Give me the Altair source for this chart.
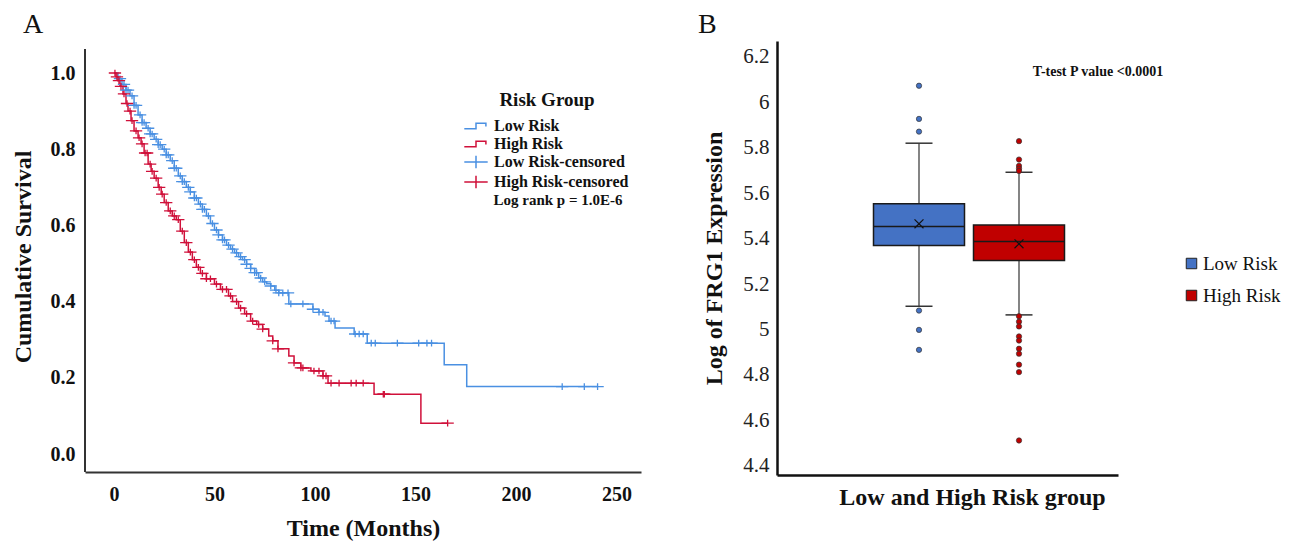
import altair as alt
import pandas as pd

FONT = "Liberation Serif"
BLUE = "#4A90E2"
RED = "#D0103A"

# ---------------- Panel A: Kaplan-Meier data ----------------
low_t = [0, 2, 4, 6, 8, 10, 12, 14, 16, 18, 20, 22, 24, 26, 28, 30, 32, 34, 36, 38, 40, 42, 44, 46, 48,
         50, 52, 54, 56, 58, 60, 62, 64, 66, 68, 70, 72, 74, 76, 78, 80, 82, 87, 99, 102, 105, 107, 110,
         119.5, 126, 164.3, 175.5, 240.6]
low_s = [1.0, 0.985, 0.97, 0.955, 0.94, 0.915, 0.89, 0.87, 0.855, 0.84, 0.826, 0.812, 0.80, 0.785, 0.77,
         0.75, 0.73, 0.715, 0.70, 0.688, 0.672, 0.656, 0.642, 0.625, 0.605, 0.588, 0.575, 0.562, 0.548,
         0.538, 0.528, 0.518, 0.51, 0.498, 0.487, 0.476, 0.462, 0.452, 0.447, 0.441, 0.43, 0.423, 0.394,
         0.380, 0.372, 0.362, 0.349, 0.331, 0.315, 0.291, 0.234, 0.177, 0.177]
high_t = [0, 1, 2, 3, 4.5, 6, 7, 8.5, 10, 12, 13.5, 15, 17, 18.5, 20, 22, 23.5, 25, 27, 29, 31, 33, 35,
          37, 39, 41, 43, 46, 50, 53, 57, 59, 62, 65, 68, 71, 74, 77, 79, 81.6, 87, 89.6, 93, 98, 104,
          106.5, 129.4, 152.7, 166]
high_s = [1.0, 0.99, 0.98, 0.965, 0.945, 0.92, 0.9, 0.875, 0.848, 0.83, 0.814, 0.79, 0.761, 0.742,
          0.724, 0.70, 0.682, 0.66, 0.638, 0.625, 0.615, 0.585, 0.555, 0.53, 0.51, 0.49, 0.474, 0.46,
          0.446, 0.432, 0.415, 0.40, 0.383, 0.368, 0.349, 0.34, 0.328, 0.31, 0.297, 0.276, 0.257, 0.239,
          0.226, 0.218, 0.205, 0.186, 0.157, 0.081, 0.081]
low_cens = [3, 5, 6, 7, 9, 10, 11, 13, 14, 15, 17, 18, 19, 21, 22, 23, 25, 26, 27, 29, 30, 31, 33, 34,
            35, 37, 38, 40, 41, 43, 44, 45, 47, 49, 51, 52, 54, 55, 57, 59, 61, 63, 65, 66, 68, 70, 71,
            73, 75, 78, 80.6, 82, 84, 86.6, 88, 94, 99, 102, 104, 108, 109.5, 120, 122, 124, 128, 130,
            141, 151.6, 155.7, 158, 223, 234, 240.6]
high_cens = [0.5, 1.5, 2.5, 3.5, 5, 6.5, 8, 9, 11, 12.5, 14, 15.5, 16.5, 18, 19, 21, 22.5, 24, 26, 28,
             30, 32, 34, 36, 38, 40, 42, 44, 46, 48, 51, 54, 56, 58, 61, 63, 66, 69, 72, 74, 79, 81.6,
             89.6, 93, 94, 99.5, 102, 104, 105.5, 108, 112, 118, 120.5, 124, 134, 134.5, 166]
km_series = ["Low Risk", "High Risk", "Low Risk-censored", "High Risk-censored"]
x_ticks_a = [0, 50, 100, 150, 200, 250]
y_ticks_a = [0.0, 0.2, 0.4, 0.6, 0.8, 1.0]

# ---------------- Panel B: box plot data ----------------
groups = ["Low Risk", "High Risk"]
q1 = [5.369, 5.303]
q3 = [5.553, 5.460]
median = [5.453, 5.387]
mean = [5.465, 5.377]
whisk_lo = [5.102, 5.064]
whisk_hi = [5.820, 5.692]
out_low = [6.073, 5.927, 5.871, 5.083, 4.998, 4.910]
out_high = [5.829, 5.748, 5.720, 5.708, 5.698, 5.058, 5.034, 5.013, 4.969, 4.951, 4.915, 4.893,
            4.845, 4.812, 4.511]
y_ticks_b = [4.4, 4.6, 4.8, 5.0, 5.2, 5.4, 5.6, 5.8, 6.0, 6.2]
box_colors = ["#4472C4", "#C00000"]


def surv_at(ts, ss, t):
    s = ss[0]
    for ti, si in zip(ts, ss):
        if ti <= t:
            s = si
        else:
            break
    return s


km_df = pd.DataFrame({
    "t": low_t + high_t,
    "s": low_s + high_s,
    "series": ["Low Risk"] * len(low_t) + ["High Risk"] * len(high_t),
})
cens_df = pd.DataFrame({
    "t": low_cens + high_cens,
    "s": [surv_at(low_t, low_s, t) for t in low_cens] + [surv_at(high_t, high_s, t) for t in high_cens],
    "series": ["Low Risk-censored"] * len(low_cens) + ["High Risk-censored"] * len(high_cens),
})
one_row = pd.DataFrame({"k": [0]})

STEP = "M-1.3,0.3H0V-0.3H1.1V0.05"
CROSS = "M-1.3,0H1.3M0,-0.7V0.7"
NO_VIEW = alt.ViewBackground(stroke="transparent", strokeWidth=0)

legend_a = alt.Legend(
    title="Risk Group", orient="none", legendX=381, legendY=50,
    titleFont=FONT, titleFontSize=19, titleFontWeight="bold", titleColor="#111",
    titleAnchor="middle", titlePadding=6,
    labelFont=FONT, labelFontSize=16, labelFontWeight="bold", labelColor="#111",
    symbolSize=324, symbolStrokeWidth=1.5, symbolFillColor="transparent",
    rowPadding=0, labelOffset=8, padding=0,
)
color_a = alt.Color("series:N", scale=alt.Scale(domain=km_series, range=[BLUE, RED, BLUE, RED]),
                    legend=legend_a)

xa = alt.X("t:Q", scale=alt.Scale(domain=[-14.4, 262.2], nice=False, zero=False),
           axis=alt.Axis(title="Time (Months)", values=x_ticks_a, format="d", ticks=False,
                         domainColor="#333", domainWidth=2, grid=False,
                         labelFont=FONT, labelFontSize=20, labelFontWeight="bold", labelColor="#111",
                         labelPadding=12, titleFont=FONT, titleFontSize=24, titleFontWeight="bold",
                         titleColor="#111", titlePadding=12))
ya = alt.Y("s:Q", scale=alt.Scale(domain=[-0.0472, 1.084], nice=False, zero=False),
           axis=alt.Axis(title="Cumulative Survival", values=y_ticks_a, format=".1f", ticks=False,
                         domain=False, grid=False,
                         labelFont=FONT, labelFontSize=20, labelFontWeight="bold", labelColor="#111",
                         labelPadding=10, titleFont=FONT, titleFontSize=24, titleFontWeight="bold",
                         titleColor="#111", titlePadding=15))

lines = alt.Chart(km_df).mark_line(interpolate="step-after", strokeWidth=1.5).encode(
    x=xa, y=ya, color=color_a)
cens = alt.Chart(cens_df).mark_point(filled=False, strokeWidth=1.3, size=90, opacity=1).encode(
    x="t:Q", y="s:Q", color=color_a,
    shape=alt.Shape("series:N", scale=alt.Scale(domain=km_series, range=[STEP, STEP, CROSS, CROSS]),
                    legend=legend_a))
yline = alt.Chart(one_row).mark_rule(color="#333", strokeWidth=2).encode(
    x=alt.value(0), y=alt.value(8), y2=alt.value(431))
logrank = alt.Chart(one_row).mark_text(text="Log rank p = 1.0E-6", font=FONT, fontSize=15,
                                       fontWeight="bold", color="#111", align="center").encode(
    x=alt.value(473), y=alt.value(159))
label_a = alt.Chart(one_row).mark_text(text="A", font=FONT, fontSize=28, color="#111", align="left",
                                       baseline="top").encode(x=alt.value(-62), y=alt.value(-30))

panel_a = alt.layer(lines, cens, yline, logrank, label_a).properties(
    width=556, height=431, view=NO_VIEW)

# ---------------- Panel B ----------------
box_df = pd.DataFrame({
    "group": groups, "idx": list(range(len(groups))), "q1": q1, "q3": q3, "median": median,
    "mean": mean, "lo": whisk_lo, "hi": whisk_hi,
})
box_df["bl"] = box_df["idx"] - 0.455
box_df["br"] = box_df["idx"] + 0.455
box_df["cl"] = box_df["idx"] - 0.135
box_df["cr"] = box_df["idx"] + 0.135
out_df = pd.DataFrame({
    "group": ["Low Risk"] * len(out_low) + ["High Risk"] * len(out_high),
    "idx": [0] * len(out_low) + [1] * len(out_high),
    "v": out_low + out_high,
})

# legend position is relative to the top-level origin (panel A plot origin)
legend_b = alt.Legend(
    title=None, orient="none", legendX=1097, legendY=213, symbolType="square", symbolSize=110,
    symbolStrokeColor="#222", symbolStrokeWidth=1, labelFont=FONT, labelFontSize=19,
    labelColor="#111", rowPadding=12, labelOffset=2, padding=0,
)
xscale_b = alt.Scale(domain=[-1.42, 1.99], nice=False, zero=False)
xb = alt.X("idx:Q", scale=xscale_b,
           axis=alt.Axis(title="Low and High Risk group", labels=False, ticks=False, grid=False,
                         domainColor="#111", domainWidth=2.5, titleFont=FONT, titleFontSize=24,
                         titleFontWeight="bold", titleColor="#111", titlePadding=10, titleX=195))
yscale_b = alt.Scale(domain=[4.359, 6.270], nice=False, zero=False)
yb = alt.Y("lo:Q", scale=yscale_b,
           axis=alt.Axis(title="Log of FRG1 Expression", values=y_ticks_b, format=".1~f", ticks=False,
                         grid=False, domainColor="#111", domainWidth=2.5,
                         labelFont=FONT, labelFontSize=21, labelColor="#222", labelPadding=8,
                         titleFont=FONT, titleFontSize=24, titleFontWeight="bold", titleColor="#111",
                         titlePadding=16))

base_b = alt.Chart(box_df)
wl = base_b.mark_rule(color="#333", strokeWidth=1.2).encode(x=xb, y=yb, y2="q1:Q")
wh = base_b.mark_rule(color="#333", strokeWidth=1.2).encode(x="idx:Q", y="q3:Q", y2="hi:Q")
cap_lo = base_b.mark_rule(color="#333", strokeWidth=1.5).encode(x="cl:Q", x2="cr:Q", y="lo:Q")
cap_hi = base_b.mark_rule(color="#333", strokeWidth=1.5).encode(x="cl:Q", x2="cr:Q", y="hi:Q")
box = base_b.mark_rect(stroke="#1a1a1a", strokeWidth=1.5).encode(
    x="bl:Q", x2="br:Q", y="q1:Q", y2="q3:Q", fill=alt.Fill("group:N",
        scale=alt.Scale(domain=groups, range=box_colors), legend=legend_b))
med = base_b.mark_rule(color="#1a1a1a", strokeWidth=1.5).encode(x="bl:Q", x2="br:Q", y="median:Q")
mean_pt = base_b.mark_point(shape="M-1,-1L1,1M-1,1L1,-1", size=80, color="#111", strokeWidth=1.2,
                            filled=False, opacity=1).encode(x="idx:Q", y="mean:Q")
outs = alt.Chart(out_df).mark_point(shape="circle", filled=True, size=28, stroke="#333",
                                    strokeWidth=0.7, opacity=1).encode(
    x="idx:Q", y="v:Q", fill=alt.Fill("group:N", scale=alt.Scale(domain=groups, range=box_colors),
                                      legend=legend_b))
ttest = alt.Chart(one_row).mark_text(text="T-test P value <0.0001", font=FONT, fontSize=14,
                                     fontWeight="bold", color="#111", align="center").encode(
    x=alt.value(321), y=alt.value(31))
label_b = alt.Chart(one_row).mark_text(text="B", font=FONT, fontSize=28, color="#111", align="left",
                                       baseline="top").encode(x=alt.value(-79), y=alt.value(-30))

panel_b = alt.layer(wl, wh, cap_lo, cap_hi, box, med, mean_pt, outs, ttest, label_b).properties(
    width=341, height=434, view=NO_VIEW)

chart = alt.hconcat(panel_a, panel_b, spacing=57).properties(
    padding={"left": 11, "top": 11, "right": 5, "bottom": 5}
).configure_view(stroke="transparent", strokeWidth=0).configure(background="white")

chart.save("out.html", embed_options={"renderer": "svg", "actions": False})
